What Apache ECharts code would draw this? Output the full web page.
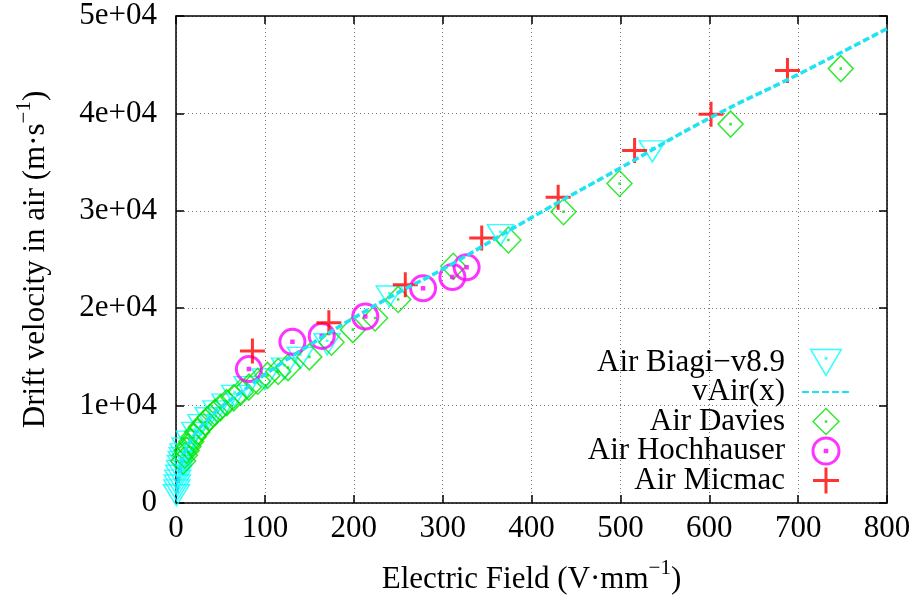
<!DOCTYPE html>
<html>
<head>
<meta charset="utf-8">
<script src="https://cdn.jsdelivr.net/npm/echarts@6/dist/echarts.min.js"></script>
<style>
html,body{margin:0;padding:0;background:#fff;}
#chart{width:916px;height:607px;}
</style>
</head>
<body>
<div id="chart"></div>
<script>
// ---- data ----
const biagiX = [0.5, 1, 1.5, 2, 3, 4, 5, 6, 7, 8, 10, 15, 21, 28, 36, 45, 55, 66, 80, 100, 122, 140, 170, 240, 365, 536];
const biagiY = [800, 1300, 1800, 2300, 2800, 3300, 3800, 4200, 4600, 5000, 5600, 6300, 7200, 8000, 8700, 9400, 10100, 11000, 11900, 12700, 13800, 14900, 16300, 21200, 27500, 36100];

const vairX = [1, 5, 10, 20, 35, 50, 75, 100, 150, 200, 250, 300, 400, 500, 600, 700, 800];
const vairY = [1000, 3500, 5200, 6900, 8500, 9800, 11500, 13200, 16200, 19000, 21600, 24000, 29300, 34400, 39500, 44000, 48700];

const daviesX = [8, 10, 12, 14, 17, 20, 24, 28, 33, 38, 44, 50, 57, 65, 73, 82, 92, 103, 115, 126, 150, 175, 199, 224, 250, 312, 374, 436, 499, 624, 748];
const daviesY = [4300, 4900, 5400, 5800, 6300, 6800, 7300, 7800, 8300, 8800, 9300, 9800, 10300, 10800, 11400, 11900, 12500, 13100, 13500, 13900, 15000, 16500, 17800, 19000, 20900, 24300, 27000, 29900, 32800, 38900, 44600];

const hochX = [82, 131, 164, 213, 278, 311, 327];
const hochY = [13750, 16550, 17150, 19150, 22050, 23200, 24200];

const micmacX = [86, 172, 258, 344, 430, 516, 602, 688];
const micmacY = [15600, 18500, 22400, 27200, 31400, 36200, 39900, 44400];

const xTicks = [0, 100, 200, 300, 400, 500, 600, 700, 800];
const yTicks = [0, 10000, 20000, 30000, 40000, 50000];

const names = ['Air Biagi\u2212v8.9', 'vAir(x)', 'Air Davies', 'Air Hochhauser', 'Air Micmac'];

// ---- helpers ----
const zip = (xs, ys) => xs.map((x, i) => [x, ys[i]]);
const FONT = 'Liberation Serif';

const triPath = 'path://M-1,-0.8 L1,-0.8 L0,0.9 Z M-0.04,-0.26 L0.04,-0.26 L0.04,-0.18 L-0.04,-0.18 Z';
const diaPath = 'path://M0,-1 L1,0 L0,1 L-1,0 Z M-0.04,-0.04 L0.04,-0.04 L0.04,0.04 L-0.04,0.04 Z';
const cirPath = 'path://M-1,0 A1,1 0 1,1 1,0 A1,1 0 1,1 -1,0 Z M-0.06,-0.06 L0.06,-0.06 L0.06,0.06 L-0.06,0.06 Z';
const plusPath = 'path://M0,-1 L0,1 M-1,0 L1,0';

const C_CYAN = '#00ffff', C_LINE = '#1ee3f2', C_GREEN = '#00e400', C_MAG = '#ff00ff', C_RED = '#ff0000';
const NONE = 'rgba(0,0,0,0)';

const axisCommon = {
  type: 'value',
  axisLine: { show: true, onZero: false, lineStyle: { color: '#000', width: 1.5 } },
  axisTick: { show: true, inside: true, length: 8, lineStyle: { color: '#000', width: 1.5 } },
};

const chart = echarts.init(document.getElementById('chart'), null, { renderer: 'canvas' });
chart.setOption({
  animation: false,
  backgroundColor: '#fff',
  grid: { left: 176, right: 29, top: 16, bottom: 102, containLabel: false },
  xAxis: [
    Object.assign({}, axisCommon, {
      position: 'bottom', min: xTicks[0], max: xTicks[xTicks.length - 1], interval: 100,
      axisLabel: { show: true, margin: 10, color: '#000', fontFamily: FONT, fontSize: 31 },
      splitLine: { show: true, lineStyle: { color: '#777', width: 1, type: [1, 3] } },
      name: 'Electric Field (V\u00b7mm{sup|\u22121})',
      nameLocation: 'middle', nameGap: 55,
      nameTextStyle: { color: '#000', fontFamily: FONT, fontSize: 31, lineHeight: 44,
        rich: { sup: { fontFamily: FONT, fontSize: 21, color: '#000', verticalAlign: 'top', lineHeight: 22 } } }
    }),
    Object.assign({}, axisCommon, {
      position: 'top', min: xTicks[0], max: xTicks[xTicks.length - 1], interval: 100,
      axisLabel: { show: false }, splitLine: { show: false }
    })
  ],
  yAxis: [
    Object.assign({}, axisCommon, {
      position: 'left', min: yTicks[0], max: yTicks[yTicks.length - 1], interval: 10000,
      axisLabel: { show: true, margin: 19, color: '#000', fontFamily: FONT, fontSize: 31,
        formatter: v => v === 0 ? '0' : (v / 10000) + 'e+04' },
      splitLine: { show: true, lineStyle: { color: '#777', width: 1, type: [1, 3] } },
      name: 'Drift velocity in air (m\u00b7s{sup|\u22121})',
      nameLocation: 'middle', nameGap: 118, nameRotate: 90,
      nameTextStyle: { color: '#000', fontFamily: FONT, fontSize: 31, lineHeight: 44,
        rich: { sup: { fontFamily: FONT, fontSize: 21, color: '#000', verticalAlign: 'top', lineHeight: 22 } } }
    }),
    Object.assign({}, axisCommon, {
      position: 'right', min: yTicks[0], max: yTicks[yTicks.length - 1], interval: 10000,
      axisLabel: { show: false }, splitLine: { show: false }
    })
  ],
  legend: {
    orient: 'vertical', right: 60, top: 342, align: 'right',
    itemWidth: 48, itemHeight: 26, itemGap: -1.5,
    textStyle: { color: '#000', fontFamily: FONT, fontSize: 31, lineHeight: 26, padding: [0, 12, 0, 0] },
    data: [
      { name: names[0], itemStyle: { borderWidth: 1.5, borderColor: C_CYAN, color: NONE } },
      { name: names[1], itemStyle: { color: NONE, borderColor: NONE, borderWidth: 0 } },
      { name: names[2], itemStyle: { borderWidth: 1.5, borderColor: C_GREEN, color: NONE } },
      { name: names[3], itemStyle: { borderWidth: 3, borderColor: C_MAG, color: NONE } },
      { name: names[4], itemStyle: { borderWidth: 3, borderColor: C_RED, color: NONE } }
    ]
  },
  series: [
    { name: names[0], type: 'scatter', data: zip(biagiX, biagiY), symbol: triPath, symbolSize: [26, 21],
      itemStyle: { color: NONE, borderColor: C_CYAN, borderWidth: 1.5 } },
    { name: names[1], type: 'line', data: zip(vairX, vairY), smooth: true, symbol: 'none', showSymbol: false,
      lineStyle: { color: C_LINE, width: 3.5, type: [7, 3] }, itemStyle: { color: C_LINE } },
    { name: names[2], type: 'scatter', data: zip(daviesX, daviesY), symbol: diaPath, symbolSize: [25, 26],
      itemStyle: { color: NONE, borderColor: C_GREEN, borderWidth: 1.5 } },
    { name: names[3], type: 'scatter', data: zip(hochX, hochY), symbol: cirPath, symbolSize: 25,
      itemStyle: { color: NONE, borderColor: C_MAG, borderWidth: 3 } },
    { name: names[4], type: 'scatter', data: zip(micmacX, micmacY), symbol: plusPath, symbolSize: 25,
      itemStyle: { color: NONE, borderColor: C_RED, borderWidth: 3 } }
  ]
});
</script>
</body>
</html>
